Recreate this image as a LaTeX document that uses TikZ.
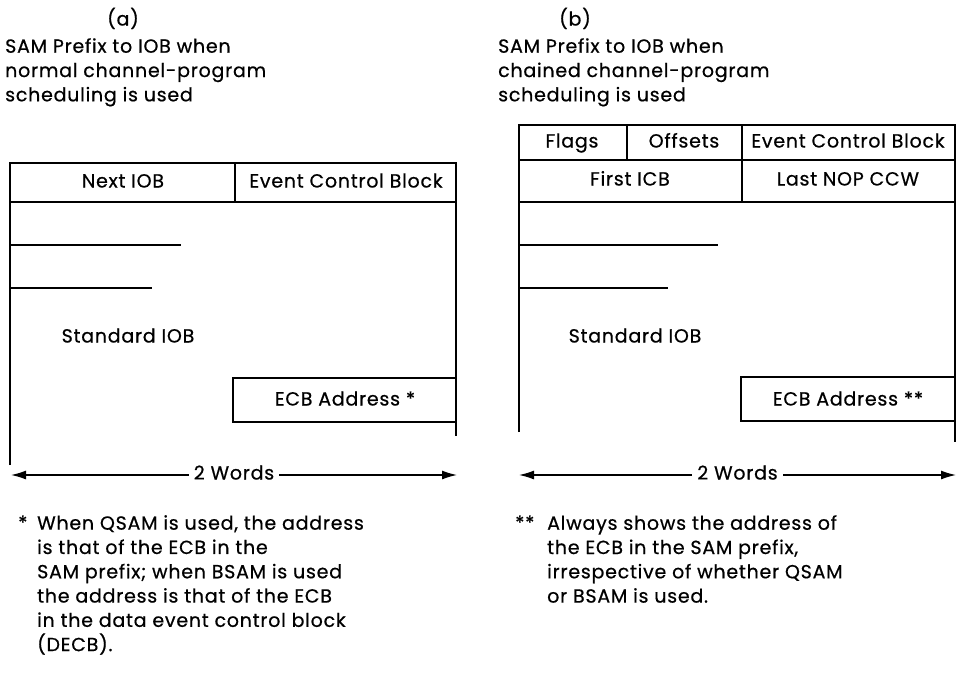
\documentclass[tikz,border=0pt]{standalone}
\usepackage{fontspec}
\setmainfont{Poppins}[LetterSpace=4, FakeBold=0.6]
\usetikzlibrary{arrows.meta}

\begin{document}
\begin{tikzpicture}[
            x=1pt, y=-1pt,
            frame/.style={line width=2pt},
            tick/.style={line width=1.4pt},
            lbl/.style={
              inner sep=0pt,
              text height=13pt, text depth=4pt,
              font=\fontsize{19}{24}\selectfont
            },
            para/.style={
              inner sep=0pt, anchor=north west,
              align=left,
              font=\fontsize{19}{24.3}\selectfont
            },
            dim/.style={
              line width=1.3pt,
              {Latex[length=15pt,width=9pt]}-{Latex[length=15pt,width=9pt]}
            }
        ]
    \useasboundingbox (0,0) rectangle (964,678);

    % (a) normal scheduling
    \node[lbl] (capA) at (123,21) {(a)};
    \node[para] (titleA) at (5,38) {SAM Prefix to IOB when\\normal channel-program\\scheduling is used};

    \draw[frame] (10,465) -- (10,163) -- (456,163) -- (456,436);
    \draw[frame] (10,202) -- (456,202);
    \draw[frame] (235,163) -- (235,202);
    \draw[tick] (10,245) -- (181,245);
    \draw[tick] (10,288) -- (152,288);
    \draw[frame] (456,378) -- (233,378) -- (233,422) -- (456,422);

    \foreach \x/\y/\n/\t in {123/183/nextA/Next IOB, 346/183/ecbA/Event Control Block,
                             128/338/stdA/Standard IOB, 345/401/adrA/ECB Address *}
        \node[lbl] (\n) at (\x,\y) {\t};

    \coordinate (wA1) at (11,475);
    \coordinate (wA2) at (457,475);
    \draw[dim] (wA1) -- node[lbl, fill=white, inner xsep=5pt] (wordsA) {2 Words} (wA2);

    \node[lbl, anchor=west] (starA) at (18,525) {*};
    \node[para] (noteA) at (37,515) {When QSAM is used, the address\\is that of the ECB in the\\SAM prefix; when BSAM is used\\the address is that of the ECB\\in the data event control block\\(DECB).};

    % (b) chained scheduling
    \node[lbl] (capB) at (575,21) {(b)};
    \node[para] (titleB) at (498,38) {SAM Prefix to IOB when\\chained channel-program\\scheduling is used};

    \draw[frame] (519,432) -- (519,125) -- (955,125) -- (955,442);
    \draw[frame] (519,160) -- (955,160);
    \draw[frame] (519,202) -- (955,202);
    \draw[frame] (627,125) -- (627,160);
    \draw[frame] (742,125) -- (742,202);
    \draw[tick] (519,245) -- (718,245);
    \draw[tick] (519,288) -- (668,288);
    \draw[frame] (955,377) -- (741,377) -- (741,421) -- (955,421);

    \foreach \x/\y/\n/\t in {572/143/flagsB/Flags, 684/143/offB/Offsets,
                             848/143/ecbB/Event Control Block, 630/181/firstB/First ICB,
                             848/181/lastB/Last NOP CCW, 635/338/stdB/Standard IOB,
                             848/401/adrB/ECB Address **}
        \node[lbl] (\n) at (\x,\y) {\t};

    \coordinate (wB1) at (519,475);
    \coordinate (wB2) at (956,475);
    \draw[dim] (wB1) -- node[lbl, fill=white, inner xsep=5pt] (wordsB) {2 Words} (wB2);

    \node[lbl, anchor=west] (starB) at (515,525) {**};
    \node[para] (noteB) at (547,515) {Always shows the address of\\the ECB in the SAM prefix,\\irrespective of whether QSAM\\or BSAM is used.};
\end{tikzpicture}
\end{document}
